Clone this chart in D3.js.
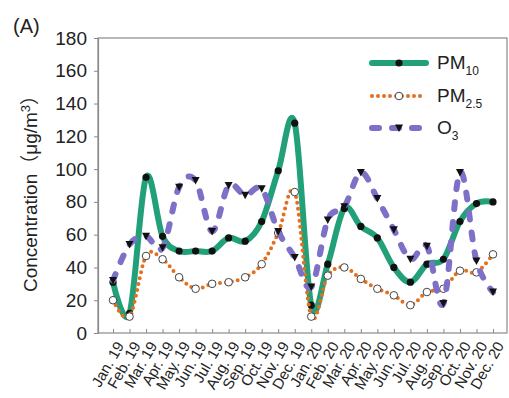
<!DOCTYPE html>
<html>
<head>
<meta charset="utf-8">
<script src="https://cdn.jsdelivr.net/npm/d3@7"></script>
<style>
  html, body { margin: 0; padding: 0; background: #fff; }
  svg { display: block; font-family: "Liberation Sans", Arial, sans-serif; }
</style>
</head>
<body>
<svg id="chart" width="509" height="398"></svg>
<script>
// Monthly mean concentrations, Jan 2019 – Dec 2020
const months = ["Jan. 19","Feb. 19","Mar. 19","Apr. 19","May. 19","Jun. 19","Jul. 19","Aug. 19","Sep. 19","Oct. 19","Nov. 19","Dec. 19",
                "Jan. 20","Feb. 20","Mar. 20","Apr. 20","May. 20","Jun. 20","Jul. 20","Aug. 20","Sep. 20","Oct. 20","Nov. 20","Dec. 20"];
const pm10  = [31, 12, 95, 59, 50, 50, 50, 58, 56, 68, 99, 128, 17, 42, 76, 65, 58, 40, 31, 42, 45, 68, 79, 80];
const pm25  = [20, 10, 47, 45, 34, 27, 30, 31, 34, 42, 61, 86, 10, 35, 40, 33, 27, 23, 17, 25, 27, 38, 37, 48];
const o3    = [32, 54, 59, 52, 89, 93, 62, 90, 84, 88, 62, 46, 28, 69, 77, 98, 82, 63, 45, 53, 18, 98, 44, 25];
const yTicks = [0, 20, 40, 60, 80, 100, 120, 140, 160, 180];

const svg = d3.select("#chart");
const frame = { left: 98, right: 507, top: 38, bottom: 333 };

const x = d3.scalePoint().domain(months).range([113, 493]);
const y = d3.scaleLinear().domain([0, 180]).range([frame.bottom, frame.top]);

const axisColor = "#8a8a8a";
const textColor = "#222";

// plot frame
svg.append("rect")
  .attr("x", frame.left).attr("y", frame.top)
  .attr("width", frame.right - frame.left).attr("height", frame.bottom - frame.top)
  .attr("fill", "none").attr("stroke", axisColor).attr("stroke-width", 1.2);

// y axis
const yAxis = svg.append("g")
  .attr("transform", `translate(${frame.left},0)`)
  .call(d3.axisLeft(y).tickValues(yTicks).tickSize(4).tickPadding(7));
yAxis.select(".domain").attr("stroke", axisColor).attr("stroke-width", 1.2);
yAxis.selectAll(".tick line").attr("stroke", axisColor);
yAxis.selectAll(".tick text")
  .attr("fill", textColor).style("font-size", "19px");

// x axis (inward ticks, rotated month labels)
const xAxis = svg.append("g")
  .attr("transform", `translate(0,${frame.bottom})`)
  .call(d3.axisBottom(x).tickSize(-4).tickFormat(""));
xAxis.select(".domain").remove();
xAxis.selectAll(".tick line").attr("stroke", axisColor);

svg.append("g").selectAll("text")
  .data(months).join("text")
  .attr("transform", d => `translate(${x(d) + 7},${frame.bottom + 10}) rotate(-60)`)
  .attr("text-anchor", "end")
  .attr("dy", "0.35em")
  .attr("fill", textColor)
  .style("font-size", "15px")
  .text(d => d);

// y axis title
const yTitle = svg.append("text")
  .attr("transform", "translate(37,189) rotate(-90)")
  .attr("text-anchor", "middle")
  .attr("fill", textColor)
  .style("font-size", "19px");
yTitle.append("tspan").text("Concentration");
yTitle.append("tspan").style("font-family", "'Noto Sans CJK SC'").text("（");
yTitle.append("tspan").text("μg/m");
yTitle.append("tspan").attr("dy", -7).style("font-size", "13px").text("3");
yTitle.append("tspan").attr("dy", 7).style("font-family", "'Noto Sans CJK SC'").text("）");

// panel letter
svg.append("text")
  .attr("x", 13).attr("y", 33)
  .attr("fill", textColor)
  .style("font-size", "20px")
  .text("(A)");

const curve = d3.curveCardinal.tension(0);
const line = d3.line().x((d, i) => x(months[i])).y(d => y(d)).curve(curve);

const series = [
  { key: "pm10", values: pm10, color: "#22a079", width: 6, dash: null, cap: "round", marker: "dot" },
  { key: "pm25", values: pm25, color: "#e2701f", width: 4, dash: "0,6", cap: "round", marker: "ring" },
  { key: "o3",   values: o3,   color: "#7c71c7", width: 6, dash: "7,13", cap: "round", marker: "tri" }
];

function drawMarker(g, kind, cx, cy) {
  if (kind === "dot") {
    g.append("circle").attr("cx", cx).attr("cy", cy).attr("r", 3.6).attr("fill", "#111");
  } else if (kind === "ring") {
    g.append("circle").attr("cx", cx).attr("cy", cy).attr("r", 3.8)
      .attr("fill", "#fff").attr("stroke", "#444").attr("stroke-width", 1);
  } else {
    g.append("path")
      .attr("d", `M${cx - 4},${cy - 3.5}L${cx + 4},${cy - 3.5}L${cx},${cy + 4}Z`)
      .attr("fill", "#111");
  }
}

series.forEach(s => {
  const g = svg.append("g").attr("class", s.key);
  g.append("path")
    .attr("d", line(s.values))
    .attr("fill", "none")
    .attr("stroke", s.color)
    .attr("stroke-width", s.width)
    .attr("stroke-linecap", s.cap)
    .attr("stroke-linejoin", "round")
    .attr("stroke-dasharray", s.dash);
  s.values.forEach((v, i) => drawMarker(g, s.marker, x(months[i]), y(v)));
});

// legend
const legendRows = [
  { s: series[0], label: "PM", sub: "10", cy: 63 },
  { s: series[1], label: "PM", sub: "2.5", cy: 96 },
  { s: series[2], label: "O", sub: "3", cy: 128 }
];
const legend = svg.append("g").attr("class", "legend");
legendRows.forEach(r => {
  legend.append("line")
    .attr("x1", 372).attr("x2", 426).attr("y1", r.cy).attr("y2", r.cy)
    .attr("stroke", r.s.color).attr("stroke-width", r.s.width)
    .attr("stroke-linecap", r.s.cap)
    .attr("stroke-dasharray", r.s.dash);
  drawMarker(legend, r.s.marker, 399, r.cy);
  const t = legend.append("text")
    .attr("x", 437).attr("y", r.cy + 6)
    .attr("fill", textColor)
    .style("font-size", "19px");
  t.append("tspan").text(r.label);
  t.append("tspan").attr("dy", 6).style("font-size", "12px").text(r.sub);
});
</script>
</body>
</html>
